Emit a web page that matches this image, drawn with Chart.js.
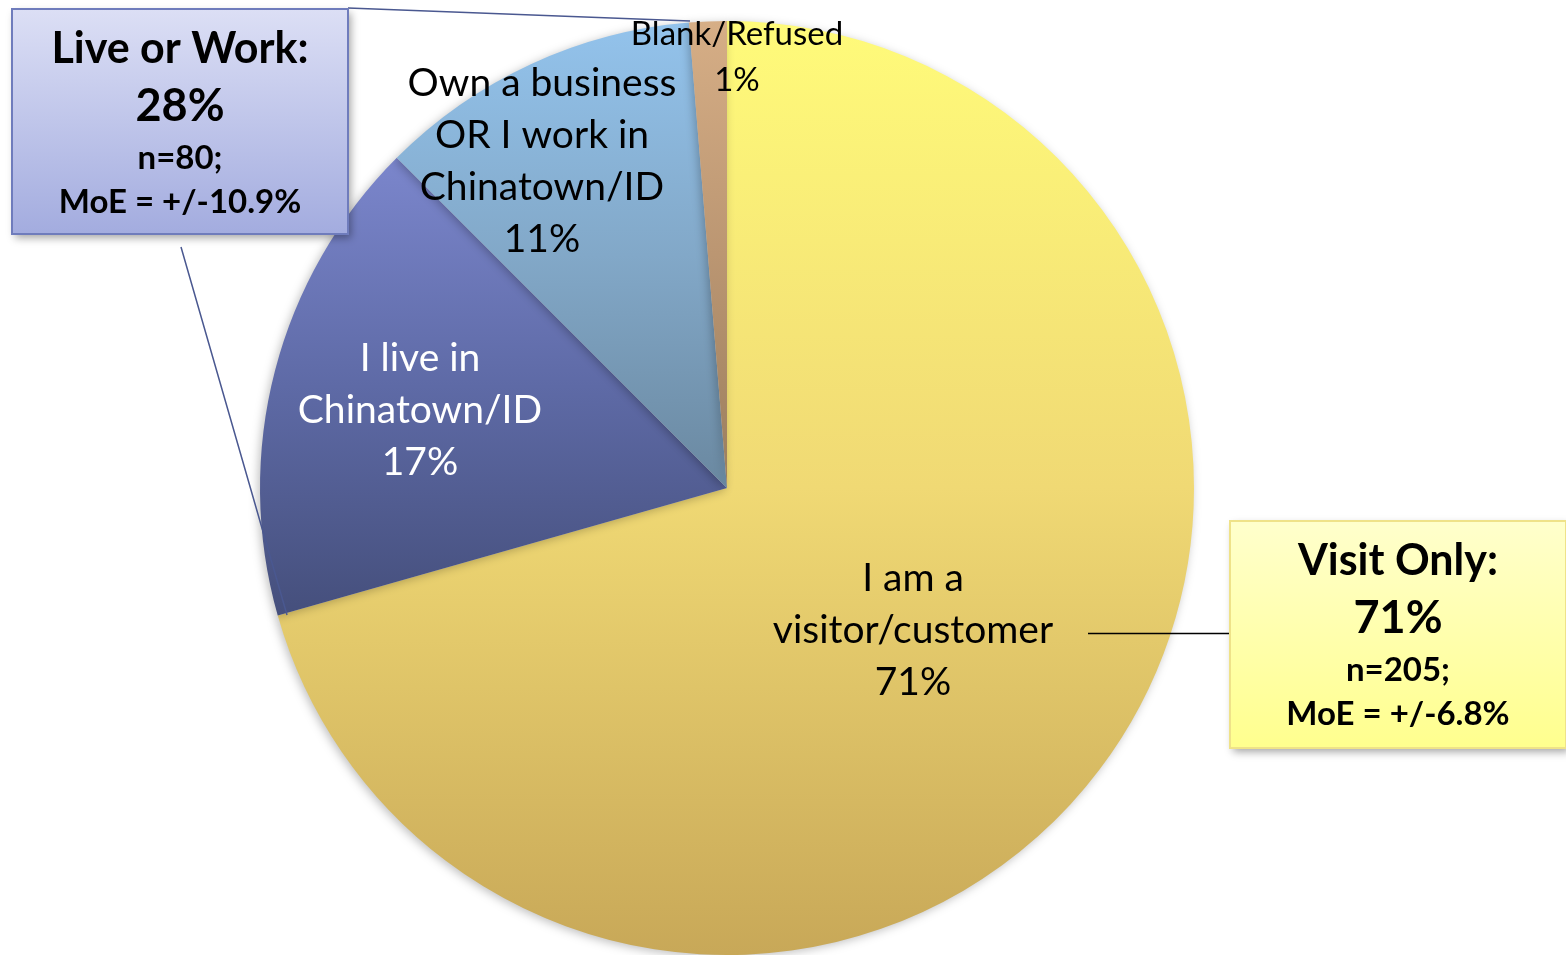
<!DOCTYPE html>
<html>
<head>
    <title>Chinatown/ID respondents</title>
    <style>
        html, body { margin: 0; padding: 0; background: #fff; }
        #wrap { width: 1566px; height: 955px; position: relative; }
    </style>
</head>
<body>
    <div id="wrap"><canvas id="pie"></canvas></div>

    <script src="https://cdn.jsdelivr.net/npm/chart.js"></script>
    <script>
        // slices go clockwise from 12 o'clock
        const categories = ['I am a visitor/customer', 'I live in Chinatown/ID', 'Own a business OR I work in Chinatown/ID', 'Blank/Refused'];
        const shares = [70.6, 16.9, 11.2, 1.3];
        const shownPct = ['71%', '17%', '11%', '1%'];
        const labelLines = [
            ['I am a', 'visitor/customer'],
            ['I live in', 'Chinatown/ID'],
            ['Own a business', 'OR I work in', 'Chinatown/ID'],
            ['Blank/Refused']
        ];
        const groupBoxes = [
            ['Live or Work:', '28%', 'n=80;', 'MoE = +/-10.9%'],
            ['Visit Only:', '71%', 'n=205;', 'MoE = +/-6.8%']
        ];

        // top / middle / bottom gradient colours per slice
        const gradStops = [
            ['#fffb7a', '#f0d974', '#c8a858'],
            ['#7b86cc', '#5e6aa6', '#454f7c'],
            ['#93c3ec', '#82a8c8', '#6a88a0'],
            ['#d6ae86', '#bb9672', '#9a7e5e']
        ];
        const labelColor = ['#000', '#fff', '#000', '#000'];
        // label centre (first line) in px
        const labelAt = [[913, 578], [420, 358], [542, 83], [737, 34]];
        const FONT = 'Lato, Calibri, "Open Sans", sans-serif';

        function sliceRange(chart, i) {
            const area = chart.chartArea;
            const cx = (area.left + area.right) / 2, cy = (area.top + area.bottom) / 2;
            const r = Math.min(area.right - area.left, area.bottom - area.top) / 2;
            const total = shares.reduce((a, b) => a + b, 0);
            let before = 0;
            for (let k = 0; k < i; k++) before += shares[k];
            const a0 = before / total * Math.PI * 2, a1 = (before + shares[i]) / total * Math.PI * 2;
            let ys = [cy];
            for (let t = 0; t <= 40; t++) {
                const a = a0 + (a1 - a0) * t / 40;
                ys.push(cy - r * Math.cos(a));
            }
            return [Math.min(...ys), Math.max(...ys)];
        }

        function sliceFill(context) {
            const chart = context.chart;
            const i = context.dataIndex;
            if (!chart.chartArea) return gradStops[i][1];
            const [y0, y1] = sliceRange(chart, i);
            const g = chart.ctx.createLinearGradient(0, y0, 0, y1);
            g.addColorStop(0, gradStops[i][0]);
            g.addColorStop(0.5, gradStops[i][1]);
            g.addColorStop(1, gradStops[i][2]);
            return g;
        }

        function drawBox(ctx, x, y, w, h, top, bottom, border, lines) {
            ctx.save();
            ctx.shadowColor = 'rgba(0,0,0,0.35)';
            ctx.shadowBlur = 8;
            ctx.shadowOffsetX = 3;
            ctx.shadowOffsetY = 4;
            const g = ctx.createLinearGradient(0, y, 0, y + h);
            g.addColorStop(0, top);
            g.addColorStop(1, bottom);
            ctx.fillStyle = g;
            ctx.fillRect(x, y, w, h);
            ctx.restore();
            ctx.save();
            ctx.strokeStyle = border;
            ctx.lineWidth = 2;
            ctx.strokeRect(x, y, w, h);
            ctx.fillStyle = '#000';
            ctx.textAlign = 'center';
            ctx.textBaseline = 'middle';
            const cx = x + w / 2;
            ctx.font = 'bold 43px ' + FONT;
            ctx.fillText(lines[0], cx, y + 40);
            ctx.font = 'bold 45px ' + FONT;
            ctx.fillText(lines[1], cx, y + 97);
            ctx.font = 'bold 33px ' + FONT;
            ctx.fillText(lines[2], cx, y + 149);
            ctx.fillText(lines[3], cx, y + 193);
            ctx.restore();
        }

        const extras = {
            id: 'extras',
            beforeDatasetsDraw(chart) {
                const ctx = chart.ctx;
                ctx.save();
                ctx.shadowColor = 'rgba(0,0,0,0.25)';
                ctx.shadowBlur = 10;
                ctx.shadowOffsetX = -2;
                ctx.shadowOffsetY = 2;
            },
            afterDatasetsDraw(chart) {
                const ctx = chart.ctx;
                ctx.restore();
                // slice labels
                ctx.save();
                ctx.textAlign = 'center';
                ctx.textBaseline = 'middle';
                labelLines.forEach((lines, i) => {
                    const small = i === 3;
                    const step = small ? 46 : 52;
                    ctx.font = (small ? '33px ' : '39px ') + FONT;
                    ctx.fillStyle = labelColor[i];
                    const all = lines.concat([shownPct[i]]);
                    all.forEach((t, k) => ctx.fillText(t, labelAt[i][0], labelAt[i][1] + k * step));
                });
                ctx.restore();
            },
            afterDraw(chart) {
                const ctx = chart.ctx;
                // connector lines
                ctx.save();
                ctx.lineWidth = 1.5;
                ctx.strokeStyle = '#4a5890';
                ctx.beginPath();
                ctx.moveTo(348, 8); ctx.lineTo(690, 21);
                ctx.moveTo(181, 247); ctx.lineTo(287, 615);
                ctx.stroke();
                ctx.strokeStyle = '#000';
                ctx.beginPath();
                ctx.moveTo(1088, 633.5); ctx.lineTo(1230, 633.5);
                ctx.stroke();
                ctx.restore();
                drawBox(ctx, 12, 9, 336, 225, '#dcdff5', '#a3acdf', '#6f7cbc', groupBoxes[0]);
                drawBox(ctx, 1230, 521, 336, 227, '#ffffcc', '#ffff8e', '#efe289', groupBoxes[1]);
            }
        };

        new Chart(document.getElementById('pie'), {
            type: 'pie',
            data: {
                labels: categories,
                datasets: [{
                    data: shares,
                    backgroundColor: sliceFill,
                    borderWidth: 0
                }]
            },
            options: {
                responsive: true,
                maintainAspectRatio: false,
                animation: false,
                layout: { padding: { left: 260, right: 372, top: 21, bottom: 0 } },
                plugins: {
                    legend: { display: false },
                    tooltip: { enabled: false }
                }
            },
            plugins: [extras]
        });
    </script>
</body>
</html>
